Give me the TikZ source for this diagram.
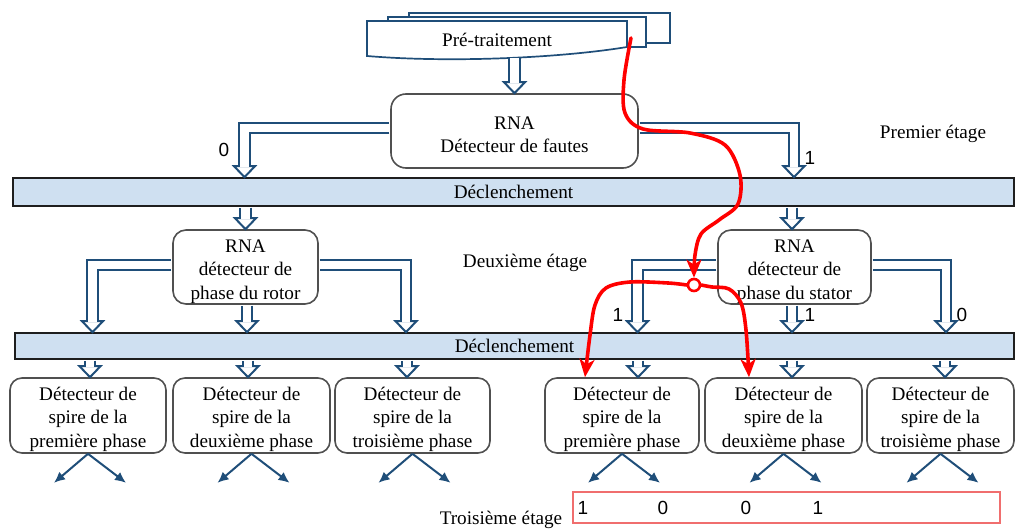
\documentclass[tikz,border=0pt]{standalone}
\usepackage{fontspec}
\setmainfont{Liberation Serif}
\newfontfamily\digitfont{Liberation Sans}
\usetikzlibrary{calc,arrows.meta}

\definecolor{hblue}{RGB}{31,78,121}
\definecolor{boxgray}{RGB}{80,80,80}
\definecolor{barfill}{RGB}{207,224,241}
\definecolor{barline}{RGB}{30,30,30}
\definecolor{outred}{RGB}{240,110,110}

% hollow arrow head, tip at #1
\newcommand\hollowhead[1]{\filldraw[hhead] ($#1+(-10.5,-11)$) -- #1 -- ($#1+(10.5,-11)$) -- cycle;}
% invisible struts that set the height of a first text line
\newcommand\strutA{\rule{0pt}{19.7pt}}
\newcommand\strutB{\rule{0pt}{21.5pt}}
\newcommand\strutC{\rule{0pt}{20.5pt}}

\tikzset{
  txt/.style={font=\fontsize{19.2}{23.5}\selectfont, align=center, inner sep=0pt},
  dig/.style={font=\digitfont\fontsize{19}{23}\selectfont, inner sep=0pt},
  rbox/.style={txt, draw=boxgray, fill=white, line width=1.6pt, rounded corners=13pt},
  bar/.style={txt, draw=barline, fill=barfill, line width=1.7pt},
  leaf/.style={rbox, minimum height=75pt, rounded corners=12pt},
  doc/.style={draw=hblue, fill=white, line width=1.7pt},
  hshaft/.style={draw=hblue, line width=2pt, double=white, double distance=8.7pt, line join=miter},
  hhead/.style={draw=hblue, fill=white, line width=2pt, line join=miter},
  sarrow/.style={draw=hblue, line width=2pt, -{Latex[length=11pt,width=10pt]}},
  redline/.style={draw=red, line width=3.6pt, line cap=round,
    -{Stealth[length=18pt,width=15pt,inset=5pt]}},
}

\begin{document}
\begin{tikzpicture}[x=1pt,y=-1pt]
\useasboundingbox (0,0) rectangle (1015,532);

% stacked document: pre-processing
\filldraw[doc] (409,13) rectangle (670,43);
\filldraw[doc] (388,17) rectangle (646,47);
\filldraw[doc] (367,21) -- (627,21) -- (627,47)
  .. controls (560,58) and (450,63) .. (367,56) -- cycle;
\node[txt, minimum width=260pt, minimum height=36pt] (pre) at (497,40) {Pré-traitement};

% first stage
\node[rbox, minimum width=247pt, minimum height=74pt, rounded corners=15pt] (fault) at (514.5,131)
  {\strutA RNA\\Détecteur de fautes};
\node[bar, minimum width=1001pt, minimum height=28pt] (bar1) at (513.5,192) {Déclenchement};

% second stage
\node[rbox, minimum width=145pt, minimum height=74pt] (rotor) at (245.5,267)
  {\strutB RNA\\détecteur de\\phase du rotor};
\node[rbox, minimum width=153pt, minimum height=74pt] (stator) at (794.5,267)
  {\strutB RNA\\détecteur de\\phase du stator};
\node[bar, minimum width=999pt, minimum height=26pt] (bar2) at (514.5,346) {Déclenchement};

% third stage: turn detectors
\node[leaf, minimum width=156pt] (b1) at (88,415.5)  {\strutC Détecteur de\\spire de la\\première phase};
\node[leaf, minimum width=157pt] (b2) at (251.5,415.5) {\strutC Détecteur de\\spire de la\\deuxième phase};
\node[leaf, minimum width=155pt] (b3) at (412.5,415.5) {\strutC Détecteur de\\spire de la\\troisième phase};
\node[leaf, minimum width=154pt] (b4) at (622,415.5) {\strutC Détecteur de\\spire de la\\première phase};
\node[leaf, minimum width=157pt] (b5) at (783.5,415.5) {\strutC Détecteur de\\spire de la\\deuxième phase};
\node[leaf, minimum width=147pt] (b6) at (940.5,415.5) {\strutC Détecteur de\\spire de la\\troisième phase};

% stage labels
\node[txt] (s1) at (933,134) {Premier étage};
\node[txt] (s2) at (525,263) {Deuxième étage};
\node[txt] (s3) at (501,520) {Troisième étage};

% output code
\node[draw=outred, line width=1.5pt, minimum width=427pt, minimum height=31pt, inner sep=0pt]
  (out) at (786.5,507.5) {};
\node[dig] (o1) at (583,508) {1};
\node[dig] (o2) at (663,508) {0};
\node[dig] (o3) at (746,508) {0};
\node[dig] (o4) at (818,508) {1};

% branch values
\node[dig] (v0) at (224,150) {0};
\node[dig] (v1) at (810,158) {1};
\node[dig] (v2) at (618,315) {1};
\node[dig] (v3) at (810,315) {1};
\node[dig] (v4) at (962,315) {0};

% tips of the hollow arrows
\coordinate (tA) at (244.5,0 |- bar1.north);
\coordinate (tB) at (794,0 |- bar1.north);
\coordinate (tC) at (792,0 |- stator.north);
\coordinate (tR1) at (92.5,0 |- bar2.north);
\coordinate (tR3) at (406,0 |- bar2.north);
\coordinate (tR2) at (247,0 |- bar2.north);
\coordinate (tS1) at (637.5,0 |- bar2.north);
\coordinate (tS2) at (792,0 |- bar2.north);
\coordinate (tS3) at (946,0 |- bar2.north);
\coordinate (tL1) at (90,0 |- b1.north);
\coordinate (tL2) at (248,0 |- b2.north);
\coordinate (tL3) at (407,0 |- b3.north);
\coordinate (tL4) at (638,0 |- b4.north);
\coordinate (tL5) at (792,0 |- b5.north);
\coordinate (tL6) at (945,0 |- b6.north);

% hollow arrow heads
\foreach \t in {fault.north,tA,tB,rotor.north,tC,tR1,tR2,tR3,tS1,tS2,tS3,tL1,tL2,tL3,tL4,tL5,tL6}
  {\hollowhead{(\t)}}

% hollow arrow shafts
\draw[hshaft] (fault.north |- pre.south) -- ($(fault.north)+(0,-9.9)$);
\draw[hshaft] ($(fault.west)+(-0.8,-3)$) -| ($(tA)+(0,-9.9)$);
\draw[hshaft] ($(fault.east)+(0.8,-3)$) -| ($(tB)+(0,-9.9)$);
\draw[hshaft] ($(rotor.north |- bar1.south)+(0,0.85)$) -- ($(rotor.north)+(0,-9.9)$);
\draw[hshaft] ($(tC |- bar1.south)+(0,0.85)$) -- ($(tC)+(0,-9.9)$);
\draw[hshaft] ($(rotor.west)+(-0.8,-2)$) -| ($(tR1)+(0,-9.9)$);
\draw[hshaft] ($(rotor.east)+(0.8,-2)$) -| ($(tR3)+(0,-9.9)$);
\draw[hshaft] ($(tR2 |- rotor.south)+(0,0.8)$) -- ($(tR2)+(0,-9.9)$);
\draw[hshaft] ($(stator.west)+(-0.8,-2)$) -| ($(tS1)+(0,-9.9)$);
\draw[hshaft] ($(stator.east)+(0.8,-2)$) -| ($(tS3)+(0,-9.9)$);
\draw[hshaft] ($(tS2 |- stator.south)+(0,0.8)$) -- ($(tS2)+(0,-9.9)$);
\foreach \t in {tL1,tL2,tL3,tL4,tL5,tL6}
  {\draw[hshaft] ($(\t |- bar2.south)+(0,0.85)$) -- ($(\t)+(0,-9.9)$);}

% outputs of the turn detectors
\foreach \b in {b1,b2,b3,b4,b5,b6}{
  \draw[sarrow] (\b.south) -- ++(-34,29);
  \draw[sarrow] (\b.south) -- ++(38,29);
}

% highlighted decision path
\node[circle, draw=red, fill=white, line width=2.6pt, minimum size=12pt, inner sep=0pt]
  (junc) at (694,285) {};
\coordinate (rs) at (631,38);
\coordinate (rL) at (585,0 |- b4.north);
\coordinate (rR) at (749,0 |- b5.north);
\draw[redline] plot[smooth, tension=0.55] coordinates
  {(rs) (624,80) (625,113) (643,129) (690,133) (725,145) (740,175) (738,204)
   (719,220) (701,234) (695,255) (junc.north)};
\draw[redline] plot[smooth, tension=0.55] coordinates
  {(junc.west) (668,283) (630,282) (606,288) (595,305) (590,335) (rL)};
\draw[redline] plot[smooth, tension=0.55] coordinates
  {(junc.east) (712,287) (729,289) (741,303) (746,330) (rR)};
\end{tikzpicture}
\end{document}
